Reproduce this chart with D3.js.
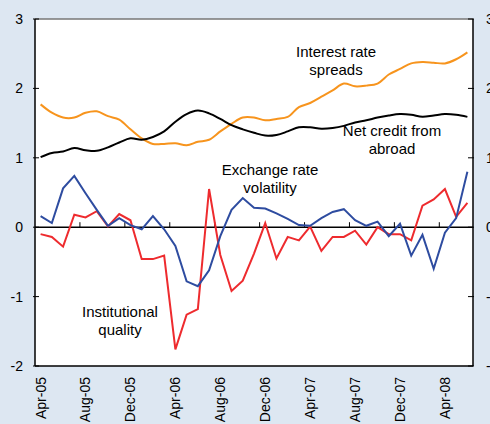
<!DOCTYPE html>
<html><head><meta charset="utf-8">
<script src="https://cdn.jsdelivr.net/npm/d3@7"></script>
<style>
html,body{margin:0;padding:0;background:#dde7f2;}
svg{display:block;font-family:"Liberation Sans",Arial,sans-serif;}
</style></head>
<body><svg id="c" width="490" height="424"></svg>
<script>
const months = ["Apr-05","May-05","Jun-05","Jul-05","Aug-05","Sep-05","Oct-05","Nov-05","Dec-05","Jan-06","Feb-06","Mar-06","Apr-06","May-06","Jun-06","Jul-06","Aug-06","Sep-06","Oct-06","Nov-06","Dec-06","Jan-07","Feb-07","Mar-07","Apr-07","May-07","Jun-07","Jul-07","Aug-07","Sep-07","Oct-07","Nov-07","Dec-07","Jan-08","Feb-08","Mar-08","Apr-08","May-08","Jun-08"];
const tickLabels = ["Apr-05","Aug-05","Dec-05","Apr-06","Aug-06","Dec-06","Apr-07","Aug-07","Dec-07","Apr-08"];
const yTicks = [3,2,1,0,-1,-2];
const interestSpreads = [1.77,1.65,1.58,1.58,1.65,1.67,1.60,1.55,1.41,1.28,1.20,1.20,1.21,1.18,1.23,1.26,1.38,1.49,1.58,1.58,1.54,1.56,1.59,1.73,1.79,1.88,1.97,2.07,2.03,2.04,2.07,2.20,2.28,2.36,2.38,2.37,2.36,2.42,2.52];
const netCredit = [1.01,1.07,1.09,1.14,1.11,1.10,1.15,1.22,1.28,1.26,1.30,1.38,1.52,1.63,1.68,1.64,1.56,1.47,1.41,1.36,1.32,1.33,1.38,1.44,1.44,1.42,1.43,1.46,1.51,1.54,1.58,1.61,1.63,1.62,1.59,1.61,1.63,1.62,1.59];
const exchangeVol = [0.16,0.06,0.56,0.74,0.49,0.25,0.02,0.13,0.03,-0.03,0.16,-0.03,-0.27,-0.78,-0.85,-0.62,-0.13,0.25,0.42,0.28,0.27,0.20,0.12,0.03,0.02,0.13,0.22,0.26,0.10,0.02,0.08,-0.13,0.05,-0.41,-0.11,-0.60,-0.08,0.13,0.80];
const instQuality = [-0.10,-0.14,-0.28,0.18,0.14,0.23,0.01,0.19,0.10,-0.46,-0.46,-0.41,-1.76,-1.26,-1.18,0.55,-0.40,-0.92,-0.77,-0.38,0.06,-0.45,-0.14,-0.19,0.01,-0.34,-0.14,-0.14,-0.05,-0.25,0.00,-0.10,-0.10,-0.19,0.31,0.40,0.55,0.15,0.35];

const svg = d3.select("#c");
const L = 35, R = 473, T = 19, B = 366;
const x = d3.scaleBand().domain(months).range([L, R]).padding(0);
const cx = d => x(d) + x.bandwidth()/2;
const y = d3.scaleLinear().domain([-2, 3]).range([B, T]);

svg.append("rect").attr("x",L).attr("y",T).attr("width",R-L).attr("height",B-T).attr("fill","#fff");

// zero line with category ticks
svg.append("line").attr("x1",L).attr("x2",R).attr("y1",y(0)).attr("y2",y(0)).attr("stroke","#000").attr("stroke-width",1.5);
const tickIdx = d3.range(4, months.length, 4);
svg.append("g").selectAll("line").data(tickIdx).join("line")
  .attr("x1", i => x(months[i])).attr("x2", i => x(months[i]))
  .attr("y1", y(0)).attr("y2", y(0)-5).attr("stroke","#000").attr("stroke-width",1);

// borders
svg.append("line").attr("x1",L).attr("x2",R).attr("y1",T).attr("y2",T).attr("stroke","#777").attr("stroke-width",1.5);
svg.append("line").attr("x1",L).attr("x2",R).attr("y1",B).attr("y2",B).attr("stroke","#000").attr("stroke-width",1.5);
svg.append("line").attr("x1",L).attr("x2",L).attr("y1",T).attr("y2",B).attr("stroke","#000").attr("stroke-width",1.5);
svg.append("line").attr("x1",R).attr("x2",R).attr("y1",T).attr("y2",B).attr("stroke","#000").attr("stroke-width",1.5);

// y ticks
const gy = svg.append("g");
gy.selectAll("line.l").data(yTicks).join("line").attr("class","l")
  .attr("x1",L-2).attr("x2",L+4).attr("y1",d=>y(d)).attr("y2",d=>y(d)).attr("stroke","#000");
gy.selectAll("line.r").data(yTicks).join("line").attr("class","r")
  .attr("x1",R-5).attr("x2",R+1).attr("y1",d=>y(d)).attr("y2",d=>y(d)).attr("stroke","#000");
gy.selectAll("text.l").data(yTicks).join("text").attr("class","l")
  .attr("x",23).attr("y",d=>y(d)).attr("dy","0.35em").attr("text-anchor","end")
  .attr("font-size",14).attr("fill","#000").text(d=>d);
gy.selectAll("text.r").data(yTicks).join("text").attr("class","r")
  .attr("x",486).attr("y",d=>y(d)).attr("dy","0.35em").attr("text-anchor","start")
  .attr("font-size",14).attr("fill","#000").text(d=>d);

// x labels
svg.append("g").selectAll("text").data(tickLabels).join("text")
  .attr("transform", d => `translate(${cx(d)},377) rotate(-90)`)
  .attr("text-anchor","end").attr("dy","0.35em").attr("font-size",14).attr("fill","#000").text(d=>d);

// lines
const smooth = d3.line().x((d,i)=>cx(months[i])).y(d=>y(d)).curve(d3.curveCatmullRom.alpha(0.5));
const straight = d3.line().x((d,i)=>cx(months[i])).y(d=>y(d));
svg.append("path").attr("d",smooth(interestSpreads)).attr("fill","none").attr("stroke","#f7941d").attr("stroke-width",2);
svg.append("path").attr("d",smooth(netCredit)).attr("fill","none").attr("stroke","#000").attr("stroke-width",2);
svg.append("path").attr("d",straight(instQuality)).attr("fill","none").attr("stroke","#ee2b2e").attr("stroke-width",2);
svg.append("path").attr("d",straight(exchangeVol)).attr("fill","none").attr("stroke","#2e4ca0").attr("stroke-width",2);

// annotations
const notes = [
  {t:["Interest rate","spreads"], x:336, y:57},
  {t:["Net credit from","abroad"], x:392, y:136},
  {t:["Exchange rate","volatility"], x:270, y:175},
  {t:["Institutional","quality"], x:120, y:317}
];
notes.forEach(n => {
  n.t.forEach((s,k) => svg.append("text").attr("x",n.x).attr("y",n.y+k*17.5)
    .attr("text-anchor","middle").attr("font-size",15).attr("fill","#000").text(s));
});
</script></body></html>
